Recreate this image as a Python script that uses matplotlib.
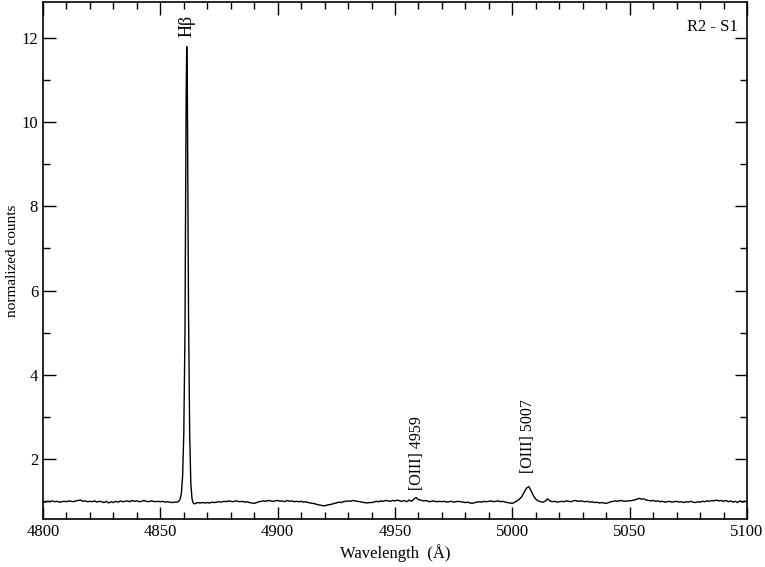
import numpy as np
import matplotlib
matplotlib.use("Agg")
import matplotlib.pyplot as plt
from matplotlib.ticker import MultipleLocator

plt.rcParams['font.family'] = ['Liberation Serif', 'DejaVu Serif']
plt.rcParams['mathtext.fontset'] = 'stix'

# Continuum, 1 A steps 4800..5100 (Hbeta core region given separately)
cont_start = 4800
cont_flux = [
    0.98, 0.97, 0.99, 0.98, 1.00, 0.98, 0.99, 0.97, 0.98, 0.99,  # 4800
    0.98, 1.00, 0.99, 0.98, 1.00, 1.01, 1.02, 0.99, 1.00, 0.98,  # 4810
    0.99, 0.98, 1.00, 0.97, 0.99, 0.98, 0.96, 0.99, 0.95, 0.98,  # 4820
    0.96, 0.99, 0.97, 1.00, 0.98, 0.99, 1.00, 0.98, 1.01, 0.99,  # 4830
    1.00, 0.98, 0.99, 1.01, 0.99, 0.98, 1.00, 0.99, 0.98, 0.99,  # 4840
    0.98, 0.99, 0.97, 0.98, 0.97, 0.96, 0.97, None, None, None,  # 4850
    None, None, None, None, None, 0.94, 0.96, 0.95, 0.96, 0.95,  # 4860
    0.96, 0.95, 0.97, 0.96, 0.97, 0.98, 0.97, 0.99, 0.98, 1.00,  # 4870
    0.99, 0.98, 1.00, 0.99, 0.98, 0.99, 0.97, 0.98, 0.96, 0.95,  # 4880
    0.94, 0.96, 0.98, 0.99, 1.00, 0.99, 1.01, 1.00, 0.99, 1.00,  # 4890
    1.01, 0.99, 1.00, 0.98, 1.01, 0.99, 1.00, 0.98, 0.99, 0.98,  # 4900
    0.99, 0.97, 0.98, 0.96, 0.95, 0.94, 0.93, 0.91, 0.90, 0.89,  # 4910
    0.88, 0.90, 0.91, 0.92, 0.94, 0.95, 0.97, 0.96, 0.98, 0.99,  # 4920
    1.00, 0.99, 1.01, 1.00, 0.99, 0.98, 0.97, 0.96, 0.95, 0.96,  # 4930
    0.96, 0.97, 0.99, 0.98, 1.00, 0.99, 1.01, 1.00, 0.99, 1.01,  # 4940
    1.00, 1.02, 1.00, 0.99, 1.01, 0.98, 1.02, 0.99, 1.04, 1.08,  # 4950
    1.03, 1.02, 1.00, 1.01, 0.99, 0.98, 1.00, 0.99, 0.98, 0.99,  # 4960
    0.98, 0.99, 0.97, 0.98, 0.99, 0.97, 0.98, 0.99, 0.98, 0.97,  # 4970
    0.96, 0.97, 0.95, 0.94, 0.96, 0.97, 0.98, 0.97, 0.99, 0.98,  # 4980
    0.99, 1.00, 0.98, 0.99, 1.00, 0.98, 0.99, 0.97, 0.96, 0.95,  # 4990
    0.94, 0.97, 1.00, 1.04, 1.10, 1.20, 1.30, 1.34, 1.24, 1.12,  # 5000
    1.04, 1.00, 0.98, 0.97, 0.99, 1.05, 1.00, 0.98, 0.99, 0.97,  # 5010
    0.98, 0.99, 0.98, 1.00, 0.99, 0.98, 1.00, 1.01, 0.99, 1.00,  # 5020
    0.99, 0.98, 0.99, 0.97, 0.98, 0.96, 0.97, 0.95, 0.96, 0.95,  # 5030
    0.94, 0.96, 0.98, 0.99, 1.00, 0.99, 1.01, 1.00, 0.99, 1.00,  # 5040
    1.00, 1.01, 1.02, 1.04, 1.06, 1.04, 1.05, 1.02, 1.01, 1.00,  # 5050
    1.01, 0.99, 1.00, 0.98, 0.99, 0.97, 0.98, 0.99, 0.97, 0.98,  # 5060
    0.99, 0.97, 0.98, 0.96, 0.98, 0.97, 0.99, 0.97, 0.96, 0.98,  # 5070
    0.97, 0.99, 0.98, 1.00, 0.99, 1.01, 1.00, 1.02, 1.00, 1.01,  # 5080
    0.99, 1.01, 0.98, 1.00, 0.97, 0.99, 0.96, 1.00, 0.97, 0.99,  # 5090
    0.98,                                                        # 5100
]

# Hbeta line core, finer sampling
hb_wave = [4857.0, 4857.5, 4858.0, 4858.5, 4859.0, 4859.5, 4860.0, 4860.5,
           4860.75, 4861.0, 4861.25, 4861.5, 4861.75, 4862.0, 4862.5,
           4863.0, 4863.5, 4864.0, 4864.5]
hb_flux = [0.97, 0.98, 1.00, 1.05, 1.20, 1.60, 2.60, 5.00,
           7.80, 10.60, 11.80, 10.90, 8.30, 5.60, 2.60,
           1.40, 1.05, 0.95, 0.93]

labels = ["H\u03b2", "[OIII] 4959", "[OIII] 5007"]
label_x = [4861.2, 4959.5, 5006.5]
label_y = [12.02, 1.27, 1.67]
label_size = [13, 11.5, 11.5]

cw = [cont_start + i for i, f in enumerate(cont_flux) if f is not None]
cf = [f for f in cont_flux if f is not None]
wave = np.array(cw + hb_wave)
flux = np.array(cf + hb_flux)
order = np.argsort(wave)
wave, flux = wave[order], flux[order]

fig = plt.figure(figsize=(7.65, 5.67), dpi=100)
ax = fig.add_axes([0.0562, 0.0847, 0.9203, 0.9118])
ax.plot(wave, flux, color='black', lw=1.0)

ax.set_xlim(4800, 5100)
ax.set_ylim(0.57, 12.86)
ax.xaxis.set_major_locator(MultipleLocator(50))
ax.xaxis.set_minor_locator(MultipleLocator(10))
ax.yaxis.set_minor_locator(MultipleLocator(1))
ax.set_yticks([2, 4, 6, 8, 10, 12])
ax.tick_params(which='both', direction='in', top=True, right=True,
               labelsize=12, width=1)
ax.tick_params(which='major', length=9)
ax.tick_params(which='minor', length=5)
for s in ax.spines.values():
    s.set_linewidth(1.2)

ax.set_xlabel("Wavelength  (\u00c5)", fontsize=12, labelpad=3)
ax.set_ylabel("normalized counts", fontsize=11, labelpad=1.5)

for t, x, y, fs in zip(labels, label_x, label_y, label_size):
    ax.text(x, y, t, rotation=90, ha='center', va='bottom', fontsize=fs)

ax.text(0.987, 0.952, "R2 - S1", transform=ax.transAxes, ha='right',
        va='center', fontsize=12)

fig.savefig("out.png", dpi=100)
